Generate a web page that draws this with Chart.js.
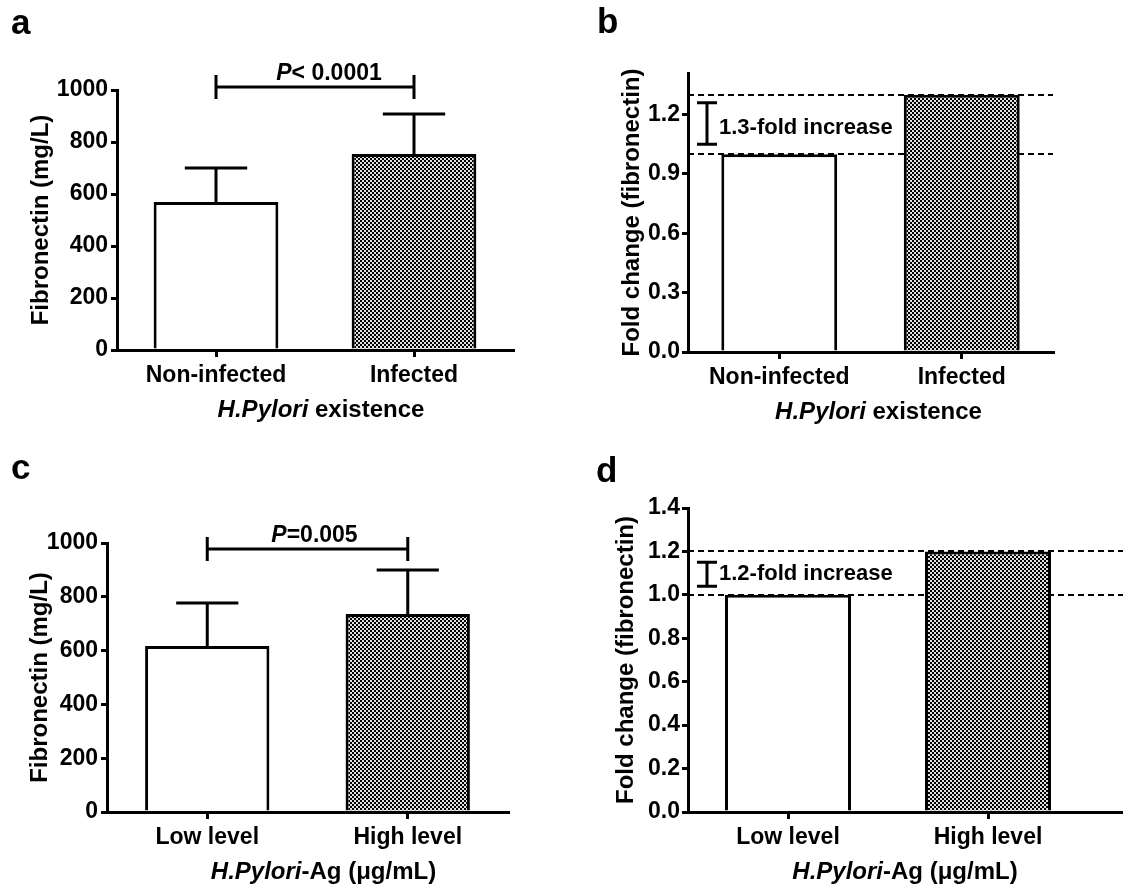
<!DOCTYPE html>
<html>
<head>
<meta charset="utf-8">
<script src="https://cdn.jsdelivr.net/npm/chart.js@4.4.0/dist/chart.umd.min.js"></script>
<style>
body { margin: 0; background: #fff; }
#wrap { position: relative; width: 1123px; height: 892px; overflow: hidden; background: #fff; }
canvas { position: absolute; }
.tag { position: absolute; font: bold 35px "Liberation Sans", Arial, sans-serif; line-height: 1; color: #000; }
</style>
</head>
<body>
<div id="wrap">
  <canvas id="chartA" width="560" height="440" style="left:0;top:0"></canvas>
  <canvas id="chartB" width="563" height="440" style="left:560px;top:0"></canvas>
  <canvas id="chartC" width="560" height="452" style="left:0;top:440px"></canvas>
  <canvas id="chartD" width="563" height="452" style="left:560px;top:440px"></canvas>
  <div class="tag" style="left:11px;top:4px">a</div>
  <div class="tag" style="left:597px;top:3px">b</div>
  <div class="tag" style="left:11px;top:449px">c</div>
  <div class="tag" style="left:596px;top:452px">d</div>
</div>
<script>
// DATOS
const groupsHp = ['Non-infected', 'Infected'];
const groupsAg = ['Low level', 'High level'];

const fibroA = [569, 754];
const fibroErrA = [131, 154];
const foldB = [1.0, 1.3];
const fibroC = [617, 736];
const fibroErrC = [160, 164];
const foldD = [1.0, 1.2];

const ticksFibro = [0, 200, 400, 600, 800, 1000];
const ticksFoldB = [0, 0.3, 0.6, 0.9, 1.2];
const ticksFoldD = [0, 0.2, 0.4, 0.6, 0.8, 1.0, 1.2, 1.4];

const pLineA = 1012;
const pLineC = 978;
const foldMarkB = [1.05, 1.26];
const foldMarkD = [1.04, 1.15];

const FONT = '"Liberation Sans", Arial, sans-serif';
Chart.defaults.font.family = FONT;
Chart.defaults.color = '#000';

// relleno a cuadros
function checker(ctx) {
    const c = document.createElement('canvas');
    c.width = 4; c.height = 4;
    const g = c.getContext('2d');
    g.fillStyle = '#e0e0e0'; g.fillRect(0, 0, 4, 4);
    g.fillStyle = '#000'; g.fillRect(0, 0, 2, 2); g.fillRect(2, 2, 2, 2);
    return ctx.createPattern(c, 'repeat');
}

function drawParts(ctx, parts, cx, y, size) {
    const fonts = parts.map(p => (p.it ? 'italic ' : '') + 'bold ' + size + 'px ' + FONT);
    let w = 0;
    const ws = parts.map((p, i) => { ctx.font = fonts[i]; const m = ctx.measureText(p.t).width; w += m; return m; });
    let x = cx - w / 2;
    parts.forEach((p, i) => { ctx.font = fonts[i]; ctx.fillText(p.t, x, y); x += ws[i]; });
}

const extras = {
    id: 'extras',
    beforeDatasetsDraw(chart, args, o) {
        if (!o.dashed) return;
        const { ctx, chartArea: a, scales: { y } } = chart;
        ctx.save();
        ctx.strokeStyle = '#000'; ctx.lineWidth = 2; ctx.setLineDash([6, 4]);
        o.dashed.forEach(v => {
            const py = Math.round(y.getPixelForValue(v));
            ctx.beginPath(); ctx.moveTo(a.left, py);
            ctx.lineTo(o.extend ? chart.width : a.right, py); ctx.stroke();
        });
        ctx.restore();
    },
    afterDatasetsDraw(chart, args, o) {
        const { ctx, chartArea: a, scales: { x, y } } = chart;
        const meta = chart.getDatasetMeta(0);
        const vals = chart.data.datasets[0].data;
        ctx.save();
        ctx.strokeStyle = '#000'; ctx.fillStyle = '#000'; ctx.lineWidth = 3;
        // barras de error
        if (o.errors) {
            o.errors.forEach((e, i) => {
                const px = x.getPixelForValue(i);
                const half = meta.data[i].width / 4;
                const y0 = y.getPixelForValue(vals[i]);
                const y1 = y.getPixelForValue(vals[i] + e);
                ctx.beginPath();
                ctx.moveTo(px, y0); ctx.lineTo(px, y1);
                ctx.moveTo(px - half, y1); ctx.lineTo(px + half, y1);
                ctx.stroke();
            });
        }
        // linea de significancia
        if (o.pLine) {
            const py = y.getPixelForValue(o.pLine);
            const x0 = x.getPixelForValue(0), x1 = x.getPixelForValue(1);
            ctx.beginPath();
            ctx.moveTo(x0, py); ctx.lineTo(x1, py);
            ctx.moveTo(x0, py - 12); ctx.lineTo(x0, py + 12);
            ctx.moveTo(x1, py - 12); ctx.lineTo(x1, py + 12);
            ctx.stroke();
            ctx.textBaseline = 'alphabetic';
            drawParts(ctx, o.pText, (x0 + x1) / 2 + o.pDx, py - 7, 23);
        }
        // marca de incremento
        if (o.mark) {
            const mx = a.left + 19;
            const ylo = y.getPixelForValue(o.mark[0]), yhi = y.getPixelForValue(o.mark[1]);
            ctx.beginPath();
            ctx.moveTo(mx, ylo); ctx.lineTo(mx, yhi);
            ctx.moveTo(mx - 10, ylo); ctx.lineTo(mx + 10, ylo);
            ctx.moveTo(mx - 10, yhi); ctx.lineTo(mx + 10, yhi);
            ctx.stroke();
            ctx.font = 'bold 22px ' + FONT;
            ctx.textBaseline = 'middle'; ctx.textAlign = 'left';
            ctx.fillText(o.markText, a.left + 31, (ylo + yhi) / 2 + o.markDy);
        }
        if (o.extend) {
            const by = Math.floor(a.bottom) + 0.5;
            ctx.beginPath(); ctx.moveTo(a.right - 6, by); ctx.lineTo(chart.width, by); ctx.stroke();
        }
        // titulo eje x
        ctx.textBaseline = 'middle'; ctx.textAlign = 'left';
        drawParts(ctx, o.xTitle, (a.left + a.right) / 2 + o.xDx, a.bottom + 60, 24);
        ctx.restore();
    }
};

function makePanel(id, cfg) {
    const ctx = document.getElementById(id).getContext('2d');
    return new Chart(ctx, {
        type: 'bar',
        data: {
            labels: cfg.labels,
            datasets: [{
                data: cfg.values,
                backgroundColor: ['#fff', checker(ctx)],
                borderColor: '#000',
                borderWidth: 3,
                borderSkipped: 'start',
                barPercentage: cfg.barPct,
                categoryPercentage: 1
            }]
        },
        options: {
            responsive: false,
            animation: false,
            events: [],
            layout: { padding: cfg.pad },
            plugins: { legend: { display: false }, tooltip: { enabled: false }, extras: cfg.extras },
            scales: {
                x: {
                    grid: { offset: false, drawOnChartArea: false, color: '#000', lineWidth: 3, tickLength: 7 },
                    border: { color: '#000', width: 3, z: 1 },
                    ticks: { font: { size: 23, weight: 'bold' }, padding: 5, maxRotation: 0 },
                    afterFit: s => { s.height = cfg.xh; }
                },
                y: {
                    min: 0,
                    max: cfg.max,
                    grid: { drawOnChartArea: false, color: '#000', lineWidth: 3, tickLength: 6 },
                    border: { color: '#000', width: 3 },
                    ticks: { font: { size: 23, weight: 'bold' }, padding: cfg.tickPad, callback: cfg.fmt },
                    afterBuildTicks: s => { s.ticks = cfg.ticks.map(v => ({ value: v })); },
                    afterFit: s => { s.width = cfg.yw; },
                    title: { display: true, text: cfg.yTitle, font: { size: 24, weight: 'bold' }, padding: { top: cfg.yTitlePad, bottom: 0 } }
                }
            }
        },
        plugins: [extras]
    });
}

const titleHp = [{ t: 'H.Pylori', it: true }, { t: ' existence' }];
const titleAg = [{ t: 'H.Pylori', it: true }, { t: '-Ag (\u03bcg/mL)' }];

makePanel('chartA', {
    labels: groupsHp, values: fibroA, barPct: 0.63,
    pad: { left: 0, right: 47, top: 90, bottom: 0 }, xh: 90, yw: 117,
    max: 1000, ticks: ticksFibro, tickPad: 3, fmt: v => v,
    yTitle: 'Fibronectin (mg/L)', yTitlePad: 27,
    extras: { errors: fibroErrA, pLine: pLineA, pText: [{ t: 'P', it: true }, { t: '< 0.0001' }], pDx: 14, xTitle: titleHp, xDx: 6 }
});

makePanel('chartB', {
    labels: groupsHp, values: foldB, barPct: 0.635,
    pad: { left: 0, right: 70, top: 73, bottom: 0 }, xh: 88, yw: 128,
    max: 1.41, ticks: ticksFoldB, tickPad: 2, fmt: v => Number(v).toFixed(1),
    yTitle: 'Fold change (fibronectin)', yTitlePad: 58,
    extras: { dashed: [foldB[1], foldB[0]], mark: foldMarkB, markText: '1.3-fold increase', markDy: 4, xTitle: titleHp, xDx: 8 }
});

makePanel('chartC', {
    labels: groupsAg, values: fibroC, barPct: 0.62,
    pad: { left: 0, right: 52, top: 103, bottom: 0 }, xh: 80, yw: 107,
    max: 1000, ticks: ticksFibro, tickPad: 3, fmt: v => v,
    yTitle: 'Fibronectin (mg/L)', yTitlePad: 26,
    extras: { errors: fibroErrC, pLine: pLineC, pText: [{ t: 'P', it: true }, { t: '=0.005' }], pDx: 7, xTitle: titleAg, xDx: 16 }
});

makePanel('chartD', {
    labels: groupsAg, values: foldD, barPct: 0.63,
    pad: { left: 0, right: 35, top: 68, bottom: 0 }, xh: 80, yw: 128,
    max: 1.4, ticks: ticksFoldD, tickPad: 2, fmt: v => Number(v).toFixed(1),
    yTitle: 'Fold change (fibronectin)', yTitlePad: 52,
    extras: { dashed: [foldD[1], foldD[0]], extend: true, mark: foldMarkD, markText: '1.2-fold increase', markDy: 0, xTitle: titleAg, xDx: 17 }
});
</script>
</body>
</html>
